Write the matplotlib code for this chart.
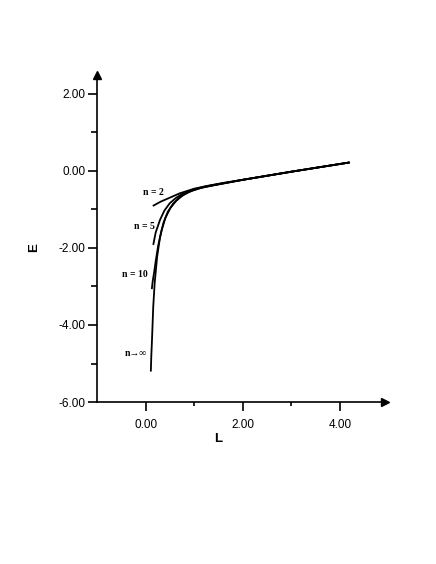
import numpy as np
import matplotlib
matplotlib.use("Agg")
import matplotlib.pyplot as plt
from matplotlib.ticker import MultipleLocator, FormatStrFormatter

# curves
L_n2 = [0.14, 0.30, 0.50, 0.70, 1.00, 1.30, 1.60, 2.00, 3.00, 4.20]
E_n2 = [-0.91, -0.80, -0.69, -0.58, -0.46, -0.38, -0.31, -0.23, -0.02, 0.22]

L_n5 = [0.15, 0.20, 0.29, 0.38, 0.49, 0.62, 0.77, 0.95, 1.20, 1.50, 2.00, 3.00, 4.20]
E_n5 = [-1.92, -1.60, -1.27, -1.03, -0.84, -0.70, -0.58, -0.49, -0.41, -0.34, -0.23, -0.02, 0.22]

L_n10 = [0.12, 0.14, 0.165, 0.20, 0.25, 0.32, 0.40, 0.50, 0.62, 0.77, 0.95, 1.20, 1.50, 2.00, 3.00, 4.20]
E_n10 = [-3.07, -2.85, -2.66, -2.35, -1.95, -1.55, -1.22, -0.97, -0.78, -0.62, -0.51, -0.42, -0.35, -0.23, -0.02, 0.22]

L_inf = [0.10, 0.11, 0.124, 0.15, 0.18, 0.23, 0.29, 0.36, 0.45, 0.56, 0.70, 0.88, 1.10, 1.40, 2.00, 3.00, 4.20]
E_inf = [-5.21, -4.80, -4.39, -3.52, -2.90, -2.23, -1.72, -1.35, -1.06, -0.85, -0.68, -0.55, -0.45, -0.37, -0.23, -0.02, 0.22]

labels = ["n = 2", "n = 5", "n = 10", "n\u2192\u221e"]
label_L = [0.16, -0.04, -0.23, -0.20]
label_E = [-0.55, -1.45, -2.69, -4.75]

fig = plt.figure(figsize=(4.36, 5.64), dpi=100)
ax = fig.add_axes([0.2225, 0.2872, 0.6605, 0.5798])

for xx, yy in [(L_n2, E_n2), (L_n5, E_n5), (L_n10, E_n10), (L_inf, E_inf)]:
    ax.plot(xx, yy, color='black', lw=1.3, solid_capstyle='butt')

for t, xx, yy in zip(labels, label_L, label_E):
    ax.text(xx, yy, t, ha='center', va='center', fontsize=7,
            family=['Liberation Serif', 'DejaVu Serif'], fontweight='bold')

ax.set_xlim(-1.01, 4.93)
ax.set_ylim(-6.0, 2.49)

ax.spines['top'].set_visible(False)
ax.spines['right'].set_visible(False)
ax.spines['left'].set_linewidth(1.2)
ax.spines['bottom'].set_linewidth(1.2)

# arrow heads
ax.plot(1, 0, marker='>', color='black', ms=6, transform=ax.transAxes, clip_on=False)
ax.plot(0, 1, marker='^', color='black', ms=6, transform=ax.transAxes, clip_on=False)

ax.xaxis.set_major_formatter(FormatStrFormatter('%.2f'))
ax.yaxis.set_major_formatter(FormatStrFormatter('%.2f'))
ax.set_xticks([0, 2, 4])
ax.set_xticks([1, 3], minor=True)
ax.set_yticks([-6, -4, -2, 0, 2])
ax.set_yticks([-5, -3, -1, 1], minor=True)

ax.tick_params(axis='x', which='major', length=6.5, width=1.2, pad=5.5, labelsize=8.5)
ax.tick_params(axis='x', which='minor', length=3, width=1.2)
ax.tick_params(axis='y', which='major', length=6.5, width=1.2, pad=2, labelsize=8.5)
ax.tick_params(axis='y', which='minor', length=4, width=1.2)
for lab in ax.get_xticklabels() + ax.get_yticklabels():
    lab.set_family('Liberation Sans')

ax.set_xlabel('L', fontsize=9.5, fontweight='bold', family='Liberation Sans')
ax.xaxis.set_label_coords(0.42, -0.095)
ax.set_ylabel('E', fontsize=9.5, fontweight='bold', family='Liberation Sans')
ax.yaxis.set_label_coords(-0.198, 0.471)

fig.savefig('out.png', dpi=100)
